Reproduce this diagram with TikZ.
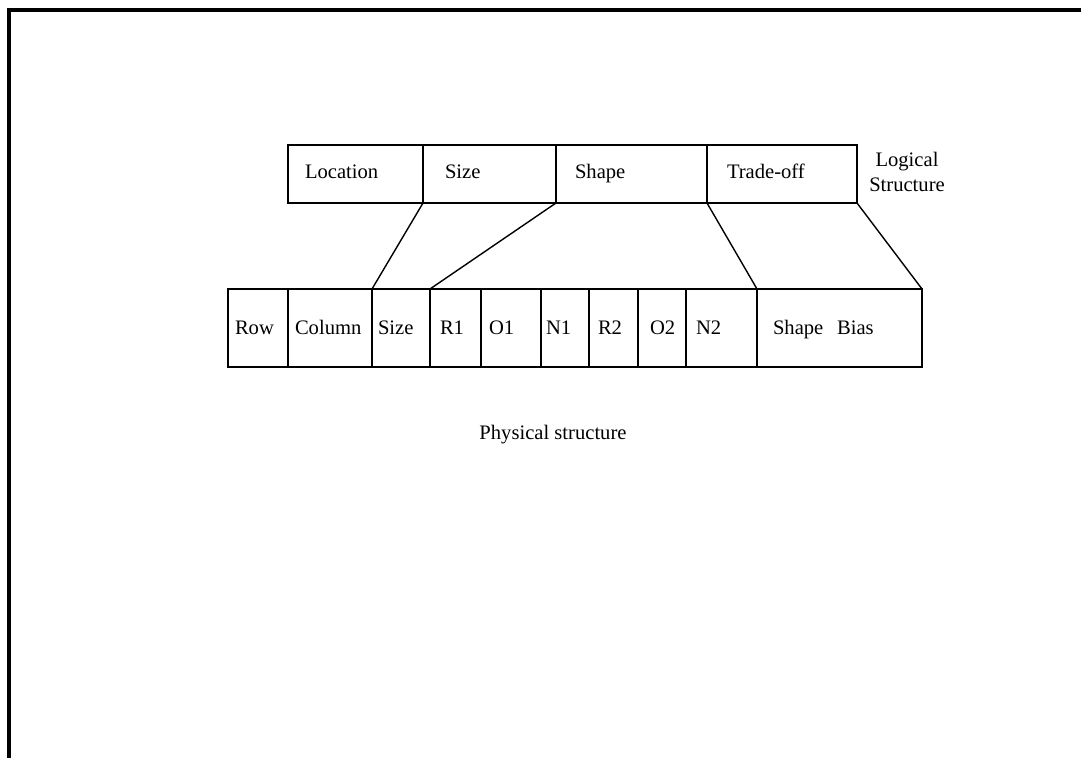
\documentclass[tikz,border=0pt]{standalone}
\usepackage{fontspec}
\setmainfont{Liberation Serif}
\usetikzlibrary{positioning}

\tikzset{
  cell/.style 2 args={draw, line width=0.7pt, outer sep=0pt, inner ysep=0pt,
    minimum height=#1, inner xsep=#2, align=left, text height=6.8pt,
    font=\fontsize{10.3}{12}\selectfont},
  top/.style={cell={29pt}{#1}, text depth=2pt},
  bot/.style={cell={39pt}{#1}, text depth=0pt},
  link/.style={line width=0.7pt},
  caption/.style={font=\fontsize{10.3}{12.5}\selectfont, align=center}
}

\begin{document}
\begin{tikzpicture}[x=0.5pt, y=-0.5pt]
\useasboundingbox (0,0) rectangle (1081,758);
% frame
\draw[line width=2pt] (1081,10) -- (9,10) -- (9,758);

% logical structure
\node[top=8.5pt, text width=50.5pt, anchor=north west] (loc) at (288,145) {Location};
\node[top=11pt, text width=44.5pt, right=0pt of loc] (lsize) {Size};
\node[top=9.5pt, text width=56.5pt, right=0pt of lsize] (lshape) {Shape};
\node[top=10pt, text width=55pt, right=0pt of lshape] (trade) {Trade-off};
\node[caption] (logic) at (907,172) {Logical\\Structure};

% physical structure
\node[bot=3.5pt, text width=23pt, anchor=north west] (row) at (228,289) {Row};
\node[bot=3.5pt, text width=35pt, right=0pt of row] (col) {Column};
\node[bot=3pt, text width=23pt, right=0pt of col] (psize) {Size};
\node[bot=5pt, text width=15.5pt, right=0pt of psize] (r1) {R1};
\node[bot=4pt, text width=22pt, right=0pt of r1] (o1) {O1};
\node[bot=2.5pt, text width=19pt, right=0pt of o1] (n1) {N1};
\node[bot=4.5pt, text width=15.5pt, right=0pt of n1] (r2) {R2};
\node[bot=6pt, text width=12pt, right=0pt of r2] (o2) {O2};
\node[bot=5pt, text width=25.5pt, right=0pt of o2] (n2) {N2};
\node[bot=8pt, text width=66.5pt, right=0pt of n2] (bias) {Shape~~Bias};
\node[caption] (phys) at (553,435) {Physical structure};

% mapping
\draw[link] (lsize.south west) -- (psize.north west);
\draw[link] (lshape.south west) -- (r1.north west);
\draw[link] (trade.south west) -- (bias.north west);
\draw[link] (trade.south east) -- (bias.north east);
\end{tikzpicture}
\end{document}
